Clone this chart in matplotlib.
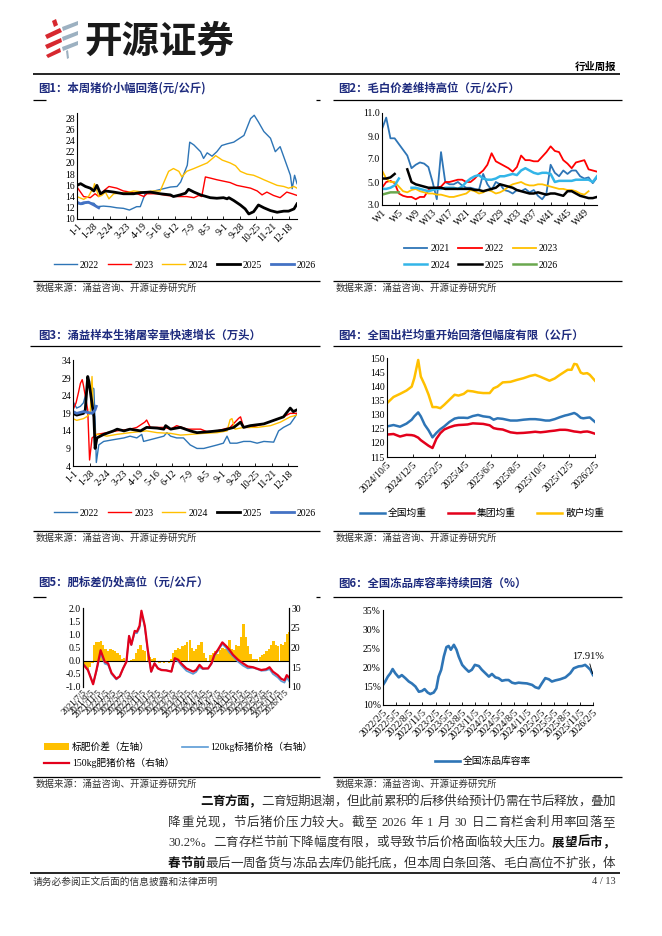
import re
import numpy as np
import matplotlib
matplotlib.use('Agg')
import matplotlib.pyplot as plt
from matplotlib.patches import Polygon

plt.rcParams['font.family'] = ['Liberation Serif', 'Noto Sans CJK SC']
plt.rcParams['axes.unicode_minus'] = False

# ---------------- 数据 ----------------
# 图1 本周猪价 (日序, 元/公斤)
c1_ticks = [0, 27, 54, 81, 108, 135, 162, 189, 216, 243, 270, 297, 324, 351]
c1_labels = ['1-1', '1-28', '2-24', '3-23', '4-19', '5-16', '6-12', '7-9', '8-5',
             '9-1', '9-28', '10-25', '11-21', '12-18']
p22_d = [0, 8, 17, 28, 33, 44, 55, 66, 77, 87, 99, 105, 113, 132, 155, 166, 172, 183, 187,
         194, 205, 210, 216, 224, 232, 240, 249, 260, 277, 288, 294, 301, 310, 321, 329,
         337, 346, 354, 357, 361, 365]
p22_v = [12.8, 12.6, 12.9, 12.8, 12.2, 12.3, 12.2, 12.0, 11.9, 11.6, 12.2, 12.2, 14.5, 15.1,
         15.7, 15.8, 16.6, 19.6, 23.7, 23.2, 22.0, 20.8, 21.8, 21.2, 22.0, 23.1, 23.4, 23.7,
         24.9, 27.9, 28.5, 27.3, 25.6, 24.4, 22.0, 22.9, 20.2, 17.8, 15.4, 17.8, 16.3]
p23_d = [0, 11, 22, 30, 36, 44, 53, 66, 77, 88, 100, 111, 116, 133, 149, 166, 182, 194, 202,
         207, 213, 221, 232, 254, 265, 288, 299, 307, 315, 326, 337, 348, 357, 365]
p23_v = [15.7, 14.0, 13.8, 14.5, 14.0, 15.0, 15.8, 15.5, 15.0, 14.8, 14.5, 14.0, 14.5, 14.5,
         14.2, 14.0, 14.0, 13.8, 14.2, 14.0, 17.5, 17.3, 17.0, 16.5, 16.0, 15.5, 15.0, 14.3,
         14.8, 14.2, 13.8, 14.8, 14.5, 14.2]
p24_d = [0, 11, 19, 28, 29, 36, 41, 47, 53, 61, 83, 94, 111, 127, 138, 144, 152, 160, 169,
         174, 182, 194, 205, 216, 227, 230, 241, 254, 263, 271, 282, 293, 304, 310, 321, 332,
         343, 351, 360, 365]
p24_v = [14.0, 13.5, 14.0, 15.8, 16.3, 14.0, 14.2, 14.8, 13.6, 14.5, 14.7, 15.0, 14.8, 15.0,
         15.0, 16.5, 18.5, 19.0, 18.5, 17.5, 18.5, 19.0, 19.5, 20.0, 21.0, 21.3, 20.5, 20.0,
         19.5, 18.5, 18.0, 17.8, 17.3, 17.0, 16.5, 16.0, 15.8, 15.5, 15.8, 15.5]
p25_d = [0, 6, 14, 22, 28, 33, 39, 47, 61, 77, 94, 105, 122, 138, 155, 160, 171, 180, 185,
         194, 205, 221, 232, 243, 249, 252, 260, 271, 279, 285, 293, 301, 310, 321, 332, 343,
         351, 360, 365]
p25_v = [16.0, 16.3, 15.8, 15.5, 15.0, 16.0, 14.5, 15.0, 14.8, 14.5, 14.5, 14.7, 14.8, 14.5,
         14.3, 14.0, 14.3, 14.6, 15.3, 14.8, 14.3, 13.8, 13.7, 13.8, 13.6, 13.8, 13.3, 12.5,
         11.8, 10.9, 11.3, 12.5, 12.0, 11.5, 11.2, 11.4, 11.4, 11.8, 12.7]
p26_d = [0, 6, 11, 19, 28, 36]
p26_v = [13.0, 12.7, 12.9, 13.0, 12.5, 12.0]

# 图2 毛白价差 (周, 元/公斤)
nan = np.nan
weeks = list(range(1, 53))
week_ticks = list(range(1, 53, 4))
week_labels = ['W%d' % w for w in week_ticks]
s21 = [9.6, 10.6, 8.8, 8.8, 8.3, 7.8, 7.3, 6.2, 6.5, 6.7, 6.6, 6.3, 5.0, 3.5, 7.6, 5.0, 4.8,
       4.8, 5.0, 4.7, 4.5, 4.5, 4.4, 4.3, 5.7, 4.8, 4.3, 5.0, 4.8, 4.3, 4.2, 4.0, 4.3, 4.2,
       4.4, 4.1, 4.3, 3.8, 3.5, 4.0, 6.5, 5.8, 5.5, 6.0, 5.7, 6.0, 6.0, 5.5, 5.3, 5.4, 4.9, 5.4]
s22 = [4.5, 5.0, 5.1, 4.9, 4.0, 3.8, 3.7, 3.7, 3.5, 3.7, 3.7, 4.3, 4.4, 4.5, 4.6, 5.0, 5.0,
       5.1, 5.2, 5.2, 5.0, 5.0, 5.3, 5.7, 6.0, 6.5, 7.5, 6.8, 6.6, 6.4, 6.2, 5.9, 6.3, 7.3,
       6.9, 6.9, 6.8, 6.8, 7.2, 7.6, 8.1, 7.7, 7.6, 6.9, 6.6, 6.2, 6.7, 6.8, 6.9, 6.1, 6.0, 5.9]
s23 = [6.0, 5.3, 5.0, 5.0, 4.6, 4.2, 4.1, 4.3, 4.4, 4.2, 4.1, 4.0, 4.0, 3.9, 3.9, 3.8, 3.7,
       3.7, 3.8, 3.9, 4.0, 4.3, 4.2, 4.0, 4.1, 4.3, 4.2, 4.0, 4.1, 4.3, 4.6, 4.8, 4.9, 5.0,
       4.8, 4.7, 4.7, 4.8, 4.8, 4.7, 4.6, 4.5, 4.4, 4.4, 4.3, 4.3, 4.2, 4.0, 3.9, 4.2, nan, nan]
s24 = [4.4, 4.4, 4.5, 4.7, 5.3, nan, nan, 4.5, 4.5, 4.4, 4.3, 4.2, 4.3, 4.4, 4.4, 4.5, 4.5,
       4.5, 4.4, 4.6, 5.0, 5.3, 5.5, 5.6, 5.3, 5.2, 5.2, 5.3, 5.5, 5.5, 5.6, 5.7, 5.6, 6.0,
       6.2, 6.0, 5.8, 5.7, 5.8, 5.8, 5.7, 5.0, 5.1, 5.1, 5.1, 5.1, 5.2, 5.2, 5.2, 5.2, 5.0, 5.5]
s25 = [5.3, 5.3, 5.4, 5.7, nan, nan, 6.1, 5.0, 4.8, 4.7, 4.6, 4.5, 4.5, 4.5, 4.5, 4.4, 4.4,
       4.4, 4.4, 4.4, 4.4, 4.4, 4.3, 4.3, 4.2, 4.3, 4.4, 4.5, 4.8, 4.7, 4.6, 4.5, 4.3, 4.2,
       4.1, 4.0, 4.0, 4.1, 4.0, 3.9, 4.0, 4.0, 3.9, 3.8, 4.2, 4.2, 4.0, 3.8, 3.7, 3.6, 3.6, 3.7]
s26 = [3.9, 4.0, 4.1, 4.1, 4.1]

# 图3 涌益样本生猪屠宰量 (日序, 万头)
k22_d = [0, 6, 12, 17, 25, 34, 37, 38, 42, 50, 66, 83, 93, 104, 112, 115, 126, 137, 148, 153,
         159, 169, 180, 191, 202, 213, 224, 235, 245, 251, 256, 267, 278, 289, 300, 311, 327,
         335, 343, 354, 362, 365]
k22_v = [22.4, 20.5, 21.0, 22.0, 27.1, 26.0, 12.0, 5.0, 10.0, 11.0, 11.5, 12.0, 12.5, 12.0,
         13.0, 11.0, 11.5, 12.0, 12.5, 13.5, 12.5, 12.0, 12.0, 10.0, 9.0, 9.0, 9.5, 10.0, 10.5,
         12.5, 10.5, 10.5, 11.0, 11.0, 10.5, 11.0, 10.8, 14.0, 15.0, 16.0, 18.0, 19.0]
k23_d = [0, 5, 9, 12, 15, 17, 24, 27, 31, 39, 55, 71, 93, 104, 117, 120, 126, 148, 159, 169,
         186, 197, 208, 218, 235, 256, 270, 273, 278, 289, 311, 327, 343, 354, 365]
k23_v = [20.0, 22.0, 25.0, 27.5, 28.6, 27.0, 20.0, 5.7, 12.0, 13.0, 13.5, 14.0, 14.5, 15.0,
         16.5, 17.1, 15.0, 15.0, 14.5, 15.5, 14.5, 14.5, 14.5, 13.8, 14.0, 15.0, 17.6, 18.0,
         15.0, 15.0, 16.0, 17.0, 18.0, 19.0, 19.0]
k24_d = [0, 6, 17, 22, 28, 31, 33, 36, 44, 55, 71, 93, 120, 137, 159, 175, 191, 213, 235,
         251, 256, 259, 264, 278, 300, 322, 338, 354, 365]
k24_v = [17.5, 17.0, 17.5, 18.0, 19.0, 29.5, 20.0, 13.0, 13.0, 12.5, 13.0, 13.5, 14.0, 13.5,
         13.3, 12.8, 13.0, 13.3, 13.5, 14.0, 17.2, 17.5, 14.5, 15.0, 15.0, 15.5, 16.5, 18.0, 18.5]
k25_d = [0, 6, 17, 20, 24, 26, 34, 36, 39, 50, 66, 72, 83, 93, 110, 120, 137, 148, 151, 159,
         175, 191, 202, 224, 245, 262, 273, 278, 289, 311, 327, 343, 354, 359, 365]
k25_v = [19.0, 18.5, 19.0, 20.0, 29.5, 28.0, 18.0, 9.0, 12.0, 13.0, 14.0, 14.5, 14.0, 14.5,
         14.0, 15.0, 14.8, 14.5, 15.5, 14.5, 15.0, 14.0, 13.5, 13.8, 14.2, 15.0, 16.5, 15.0,
         15.5, 16.0, 17.0, 18.0, 20.5, 19.5, 20.0]
k26_d = [0, 6, 17, 31, 36, 38]
k26_v = [19.5, 19.0, 19.5, 19.0, 20.0, 21.0]

# 图4 出栏均重 (自2024/10/5起的月数, 公斤)
c4_ticks = [0, 2, 4, 6, 8, 10, 12, 14, 16]
c4_labels = ['2024/10/5', '2024/12/5', '2025/2/5', '2025/4/5', '2025/6/5', '2025/8/5',
             '2025/10/5', '2025/12/5', '2026/2/5']
c4_m = [0, 0.5, 1, 1.5, 1.9, 2.1, 2.4, 2.6, 2.9, 3.2, 3.5, 3.8, 4.1, 4.4, 4.8, 5.2, 5.5, 5.9,
        6.2, 6.6, 7.0, 7.4, 7.9, 8.2, 8.5, 8.9, 9.5, 10.0, 10.5, 11.0, 11.4, 11.8, 12.2, 12.5,
        12.9, 13.3, 13.7, 13.9, 14.2, 14.4, 14.6, 14.9, 15.1, 15.4, 15.6, 16.0]
w_all = [125.9, 126.4, 125.8, 126.9, 128.3, 129.5, 130.9, 129.5, 126.5, 124.5, 122.0, 123.6,
         124.9, 125.9, 127.5, 128.7, 129.0, 129.0, 128.9, 129.6, 130.0, 129.5, 129.2, 128.3,
         128.8, 128.6, 128.0, 128.0, 128.3, 128.5, 128.5, 128.3, 128.0, 128.0, 128.5, 129.2,
         129.8, 130.0, 130.4, 130.7, 130.2, 129.0, 128.8, 129.0, 129.1, 127.5]
w_group = [123.0, 123.2, 122.3, 122.9, 122.8, 122.6, 121.9, 121.0, 120.0, 119.0, 118.2, 121.5,
           123.5, 124.8, 125.6, 126.2, 126.4, 126.5, 126.6, 127.0, 126.9, 126.8, 126.3, 125.3,
           125.0, 124.8, 123.8, 123.5, 123.6, 123.8, 124.0, 123.8, 124.0, 124.2, 124.4, 124.7,
           124.7, 124.6, 124.3, 124.1, 124.0, 123.8, 124.0, 124.1, 123.9, 123.3]
w_retail = [134.2, 136.4, 137.5, 138.7, 140.1, 143.1, 149.6, 143.7, 140.7, 137.2, 132.8, 132.8,
            132.4, 133.6, 135.4, 137.2, 136.9, 137.5, 138.6, 138.4, 138.0, 137.8, 137.8, 139.5,
            140.1, 141.6, 141.8, 142.5, 143.1, 143.9, 144.3, 143.6, 142.8, 142.2, 143.0, 144.3,
            145.5, 146.1, 146.1, 148.2, 148.0, 145.1, 144.7, 144.9, 144.3, 142.2]

# 图5 标肥价差 (自2021/7/5起的月数)
c5_ticks = list(range(0, 55, 2))
c5_labels = ['2021/7/5', '2021/9/5', '2021/11/5', '2022/1/5', '2022/3/5', '2022/5/5',
             '2022/7/5', '2022/9/5', '2022/11/5', '2023/1/5', '2023/3/5', '2023/5/5',
             '2023/7/5', '2023/9/5', '2023/11/5', '2024/1/5', '2024/3/5', '2024/5/5',
             '2024/7/5', '2024/9/5', '2024/11/5', '2025/1/5', '2025/3/5', '2025/5/5',
             '2025/7/5', '2025/9/5', '2025/11/5', '2026/1/5']
spread_m = [0, 0.6, 1.25, 1.9, 2.5, 2.9, 3.6, 4.2, 4.8, 5.4, 6.0, 6.7, 7.3, 7.9, 8.5, 9.2, 9.8,
            10.4, 11.0, 11.7, 12.3, 12.9, 13.5, 14.1, 14.8, 15.4, 16.0, 16.6, 17.3, 17.9, 18.5,
            19.1, 19.8, 20.4, 21.0, 21.6, 22.2, 22.9, 23.5, 24.1, 24.7, 25.4, 26.0, 26.6, 27.2,
            27.8, 28.5, 29.1, 29.7, 30.3, 30.9, 31.6, 32.2, 32.8, 33.5, 34.1, 34.7, 35.3, 35.9,
            36.6, 37.2, 37.8, 38.4, 39.1, 39.7, 40.3, 40.9, 41.5, 42.2, 42.8, 43.4, 44.0, 44.7,
            45.3, 45.9, 46.5, 47.2, 47.8, 48.4, 49.0, 49.6, 50.3, 50.9, 51.5, 52.1, 52.8, 53.4,
            54.0, 54.6, 55.0]
spread_v = [-0.1, -0.2, -0.3, -0.25, -0.1, 0.6, 0.7, 0.72, 0.75, 0.6, 0.45, 0.35, 0.45, 0.4,
            0.35, 0.3, 0.2, 0.05, 0.1, -0.05, -0.05, 0.02, 0.05, 0.3, 0.45, 0.6, 0.4, 0.35, 0.3,
            0.15, 0.05, 0.1, -0.05, -0.08, -0.05, -0.1, -0.05, -0.08, 0.05, 0.3, 0.4, 0.5, 0.45,
            0.55, 0.6, 0.7, 0.8, 0.5, 0.35, 0.45, 0.6, 0.7, 0.3, 0.1, 0.0, 0.2, 0.3, 0.35, 0.25,
            0.4, 0.5, 0.45, 0.55, 0.8, 0.45, 0.4, 0.6, 0.55, 0.9, 1.4, 0.9, 0.55, 0.25, 0.05,
            0.05, 0.08, 0.15, 0.2, 0.25, 0.35, 0.45, 0.6, 0.75, 0.6, 0.55, 0.65, 0.6, 0.7, 1.0, 1.1]
price_m = [0, 1.3, 2.7, 3.6, 4.7, 5.8, 6.7, 7.6, 8.9, 9.8, 10.7, 11.6, 12.3, 12.9, 13.8, 14.4,
           15.1, 15.6, 16.5, 17.3, 18.2, 19.1, 20.0, 20.9, 22.2, 23.6, 24.5, 25.4, 26.2, 27.6,
           29.4, 30.2, 31.1, 32.0, 33.4, 34.3, 35.1, 36.0, 37.2, 38.3, 39.1, 40.0, 41.4, 42.7,
           44.0, 45.4, 46.3, 47.6, 48.9, 49.8, 50.7, 52.0, 52.9, 53.8, 54.4, 55.0]
price_150 = [15.8, 14.3, 10.7, 14.3, 19.3, 16.4, 16.0, 13.6, 12.1, 12.7, 14.7, 16.4, 22.9, 20.7,
             24.2, 24.0, 25.5, 29.3, 25.5, 19.4, 13.9, 16.0, 14.7, 14.3, 14.2, 13.9, 17.3, 16.9,
             16.0, 14.7, 13.9, 14.3, 15.6, 14.7, 14.7, 16.0, 18.2, 19.4, 21.3, 20.3, 19.4, 18.2,
             16.9, 16.0, 15.2, 15.0, 14.7, 14.3, 14.5, 15.0, 13.9, 13.0, 12.1, 11.7, 13.0, 12.4]
price_120 = [15.9, 14.5, 10.9, 14.0, 18.6, 15.9, 15.6, 13.3, 11.9, 12.6, 14.7, 16.5, 23.0, 20.6,
             23.7, 23.6, 24.9, 28.8, 25.1, 19.1, 13.8, 16.0, 14.8, 14.4, 14.3, 13.9, 17.0, 16.5,
             15.5, 14.1, 13.3, 13.8, 15.0, 14.5, 14.7, 15.8, 17.9, 19.1, 20.9, 19.8, 18.7, 17.8,
             16.4, 15.4, 14.7, 14.9, 14.6, 14.1, 14.2, 14.5, 13.3, 12.4, 11.5, 11.1, 12.4, 11.5]

# 图6 冻品库容率 (自2022/2/5起的月数, %)
c6_ticks = list(range(0, 49, 3))
c6_labels = ['2022/2/5', '2022/5/5', '2022/8/5', '2022/11/5', '2023/2/5', '2023/5/5',
             '2023/8/5', '2023/11/5', '2024/2/5', '2024/5/5', '2024/8/5', '2024/11/5',
             '2025/2/5', '2025/5/5', '2025/8/5', '2025/11/5', '2026/2/5']
fz_m = [0, 0.5, 1.1, 1.7, 2.2, 2.8, 3.6, 4.3, 5.1, 5.9, 6.6, 7.4, 8.2, 8.9, 9.5, 10.2, 10.8,
        11.6, 12.2, 12.7, 13.3, 13.9, 14.5, 15.0, 15.5, 16.2, 16.8, 17.3, 18.1, 18.8, 19.6,
        20.3, 21.0, 21.9, 22.6, 23.4, 24.2, 24.9, 25.7, 26.4, 27.2, 28.0, 28.7, 29.5, 30.2,
        31.0, 31.8, 32.9, 34.1, 34.8, 35.6, 36.3, 37.1, 37.9, 38.6, 39.4, 40.5, 41.7, 42.8,
        43.6, 44.7, 45.5, 46.2, 46.8, 47.4, 48.0]
fz_v = [15.3, 16.2, 17.5, 18.4, 19.5, 18.4, 17.3, 17.9, 17.1, 16.2, 15.7, 14.9, 13.5, 13.7,
        14.2, 13.3, 12.9, 13.3, 14.4, 17.5, 19.3, 22.8, 25.3, 25.6, 24.6, 25.9, 24.6, 22.8,
        20.6, 19.7, 18.8, 19.3, 20.6, 20.3, 19.3, 18.4, 17.5, 18.2, 17.3, 17.1, 16.4, 16.6,
        16.6, 15.9, 15.7, 15.9, 15.8, 15.7, 15.3, 14.7, 14.4, 15.7, 17.1, 16.8, 16.2, 16.5,
        16.8, 17.3, 18.4, 19.7, 20.2, 20.3, 20.6, 20.0, 19.3, 17.91]

# ---------------- 版面 ----------------
W, H = 662, 936
fig = plt.figure(figsize=(6.62, 9.36), dpi=100)
page = fig.add_axes([0, 0, 1, 1])
page.set_xlim(0, W)
page.set_ylim(H, 0)
page.axis('off')

NAVY = '#1E2B7E'
CJK = ['Noto Sans CJK SC', 'DejaVu Sans']
SERIF_CJK = ['Liberation Serif', 'Noto Sans CJK SC']


def box(x0, y0, x1, y1):
    return [x0 / W, 1 - y1 / H, (x1 - x0) / W, (y1 - y0) / H]


def hline(y, x0, x1, lw=0.9):
    page.plot([x0, x1], [y, y], color='black', lw=lw, solid_capstyle='butt')


# 页眉
red_parts = [[(52, 21), (56, 19), (58, 25), (54, 27)],
             [(45, 35), (60, 28), (62, 32), (47, 39)],
             [(45, 45), (61, 38), (62, 42), (47, 49)],
             [(46, 55), (60, 48), (61, 52), (48, 58)]]
grey_parts = [[(62, 27), (78, 21), (78, 25), (63, 31)],
              [(62, 37), (78, 31), (78, 35), (63, 41)],
              [(62, 47), (78, 41), (78, 45), (63, 51)],
              [(66, 51), (68, 50), (69, 58), (67, 59)]]
for p in red_parts:
    page.add_patch(Polygon(p, closed=True, color='#D7282F', lw=0))
for p in grey_parts:
    page.add_patch(Polygon(p, closed=True, color='#9DB1C1', lw=0))
page.text(84, 41, '开源证券', fontsize=27, fontweight='bold', family=CJK,
          va='center', ha='left', color='#1A1A1A')
page.text(616, 67, '行业周报', fontsize=7.5, fontweight='bold', family=CJK,
          va='center', ha='right')
hline(74, 33, 620, lw=1.2)

# 标题与来源
titles = [(38, 88, '图1：本周猪价小幅回落(元/公斤)'),
          (338, 88, '图2：毛白价差维持高位（元/公斤）'),
          (38, 335, '图3：涌益样本生猪屠宰量快速增长（万头）'),
          (338, 335, '图4：全国出栏均重开始回落但幅度有限（公斤）'),
          (38, 583, '图5：肥标差仍处高位（元/公斤）'),
          (338, 583, '图6：全国冻品库容率持续回落（%）')]
for x, y, t in titles:
    page.text(x, y, t, fontsize=8.2, fontweight='bold', color=NAVY, family=CJK,
              va='center', ha='left')
# 标题下方分隔线
hline(100, 33, 46)
hline(100, 316, 320)
hline(100, 333, 622)
hline(346, 30, 320)
hline(346, 333, 622)
hline(597, 33, 46)
hline(597, 316, 320)
hline(597, 333, 622)
for ys, yt in [(281, 288), (531, 538), (777, 784)]:
    hline(ys, 33, 320)
    hline(ys, 333, 622)
    page.text(36, yt, '数据来源：涌益咨询、开源证券研究所', fontsize=6.8, family=CJK,
              va='center', ha='left', color='#333333')
    page.text(336, yt, '数据来源：涌益咨询、开源证券研究所', fontsize=6.8, family=CJK,
              va='center', ha='left', color='#333333')


def style(ax):
    for s in ['top', 'right']:
        ax.spines[s].set_visible(False)
    for s in ['left', 'bottom']:
        ax.spines[s].set_linewidth(0.8)
    ax.tick_params(axis='both', labelsize=7, length=0, pad=1.5)
    ax.tick_params(axis='x', length=2.5, direction='in', width=0.6, pad=2)
    ax.patch.set_alpha(0)


def rot_labels(ax, ticks, labels, size=7):
    ax.set_xticks(ticks)
    ax.set_xticklabels(labels, rotation=45, ha='right', rotation_mode='anchor', fontsize=size)


def leg(handles, labels, cx, cy, ncol, **kw):
    opts = dict(loc='center', bbox_to_anchor=(cx / W, 1 - cy / H), ncol=ncol, frameon=False,
                fontsize=7, handlelength=2.4, handletextpad=0.3, columnspacing=0.9,
                borderpad=0, borderaxespad=0)
    opts.update(kw)
    fig.legend(handles, labels, **opts)


yr_cols = {'2022': ('#2E75B6', 1.0), '2023': ('#FF0000', 1.0), '2024': ('#FFC000', 1.0),
           '2025': ('black', 2.0), '2026': ('#4472C4', 2.0)}

# ---------------- 图1 ----------------
ax1 = fig.add_axes(box(77, 113, 297, 219))
for lab, d, v in [('2022', p22_d, p22_v), ('2023', p23_d, p23_v), ('2024', p24_d, p24_v),
                  ('2025', p25_d, p25_v), ('2026', p26_d, p26_v)]:
    c, lw = yr_cols[lab]
    ax1.plot(d, v, color=c, lw=lw, label=lab)
ax1.set_xlim(0, 365)
ax1.set_ylim(10, 28.9)
ax1.set_yticks(range(10, 29, 2))
style(ax1)
rot_labels(ax1, c1_ticks, c1_labels)
h, l = ax1.get_legend_handles_labels()
leg(h, l, 185, 265, 5)

# ---------------- 图2 ----------------
ax2 = fig.add_axes(box(382, 113, 597, 205))
c2 = [('2021', s21, '#2E75B6', 1.3), ('2022', s22, '#FF0000', 1.3), ('2023', s23, '#FFC000', 1.3),
      ('2024', s24, '#33B5E8', 1.8), ('2025', s25, 'black', 1.8), ('2026', s26, '#6AA84F', 1.8)]
lines2 = {}
for lab, v, c, lw in c2:
    lines2[lab], = ax2.plot(weeks[:len(v)], v, color=c, lw=lw, label=lab)
ax2.set_xlim(1, 52)
ax2.set_ylim(3, 11)
ax2.set_yticks([3, 5, 7, 9, 11])
ax2.set_yticklabels(['3.0', '5.0', '7.0', '9.0', '11.0'])
style(ax2)
rot_labels(ax2, week_ticks, week_labels)
order = ['2021', '2024', '2022', '2025', '2023', '2026']
leg([lines2[k] for k in order], order, 481, 257, 3, labelspacing=0.75)

# ---------------- 图3 ----------------
ax3 = fig.add_axes(box(73, 360, 297, 466))
for lab, d, v in [('2022', k22_d, k22_v), ('2023', k23_d, k23_v), ('2024', k24_d, k24_v),
                  ('2025', k25_d, k25_v), ('2026', k26_d, k26_v)]:
    c, lw = yr_cols[lab]
    ax3.plot(d, v, color=c, lw=lw, label=lab)
ax3.set_xlim(0, 365)
ax3.set_ylim(4, 34.2)
ax3.set_yticks(range(4, 35, 5))
style(ax3)
rot_labels(ax3, c1_ticks, c1_labels)
h, l = ax3.get_legend_handles_labels()
leg(h, l, 185, 513, 5)

# ---------------- 图4 ----------------
ax4 = fig.add_axes(box(387, 358, 595, 457))
ax4.plot(c4_m, w_all, color='#2E75B6', lw=1.8, label='全国均重')
ax4.plot(c4_m, w_group, color='#E3001B', lw=1.8, label='集团均重')
ax4.plot(c4_m, w_retail, color='#FFC000', lw=1.8, label='散户均重')
ax4.set_xlim(0, 16)
ax4.set_ylim(115, 150.3)
ax4.set_yticks(range(115, 151, 5))
style(ax4)
rot_labels(ax4, c4_ticks, c4_labels)
h, l = ax4.get_legend_handles_labels()
leg(h, l, 482, 513, 3, prop={'family': CJK, 'size': 7}, columnspacing=2.2, handlelength=2.6)

# ---------------- 图5 ----------------
ax5 = fig.add_axes(box(83, 608, 289, 687))
ax5r = ax5.twinx()
b = ax5.bar(spread_m, spread_v, width=0.66, color='#FFC000', lw=0, label='标肥价差（左轴）')
ax5.axhline(0, color='black', lw=0.8)
ax5.set_ylim(-1, 2)
ax5.set_yticks([-1, -0.5, 0, 0.5, 1, 1.5, 2])
ax5.set_yticklabels(['-1.0', '-0.5', '0.0', '0.5', '1.0', '1.5', '2.0'])
l120, = ax5r.plot(price_m, price_120, color='#5B9BD5', lw=1.2, label='120kg标猪价格（右轴）')
l150, = ax5r.plot(price_m, price_150, color='#E3001B', lw=1.6, label='150kg肥猪价格（右轴）')
ax5r.set_ylim(10, 30)
ax5r.set_yticks([10, 15, 20, 25, 30])
ax5.set_xlim(0, 55)
for a in (ax5, ax5r):
    a.spines['top'].set_visible(False)
    a.spines['bottom'].set_visible(False)
    a.spines['left'].set_linewidth(0.8)
    a.spines['right'].set_linewidth(0.8)
    a.tick_params(axis='y', labelsize=7, length=0, pad=1.5)
ax5.tick_params(axis='x', length=0, pad=1)
rot_labels(ax5, c5_ticks, c5_labels, size=6.5)
leg([b, l120], ['标肥价差（左轴）', '120kg标猪价格（右轴）'], 44, 747, 2, loc='center left',
    columnspacing=3.3, handlelength=2.6)
leg([l150], ['150kg肥猪价格（右轴）'], 44, 763, 1, loc='center left', handlelength=2.6)

# ---------------- 图6 ----------------
ax6 = fig.add_axes(box(383, 610, 593, 705))
ax6.plot(fz_m, fz_v, color='#2E75B6', lw=1.9, label='全国冻品库容率')
ax6.set_xlim(0, 48)
ax6.set_ylim(10, 35.1)
ax6.set_yticks(range(10, 36, 5))
ax6.set_yticklabels(['%d%%' % v for v in range(10, 36, 5)])
style(ax6)
rot_labels(ax6, c6_ticks, c6_labels)
ax6.annotate('17.91%', xy=(fz_m[-1], fz_v[-1]), xytext=(46.8, 21.6), fontsize=7.5,
             ha='center', va='bottom',
             arrowprops=dict(arrowstyle='-', lw=0.6, color='black', shrinkA=0, shrinkB=1))
h, l = ax6.get_legend_handles_labels()
leg(h, l, 483, 761, 1, prop={'family': CJK, 'size': 7}, handlelength=2.6)

# ---------------- 正文 ----------------
renderer = fig.canvas.get_renderer()


def justify(y, x0, x1, parts, size=9.0):
    items = []
    for s, bold in parts:
        for tok in re.findall(r'[A-Za-z0-9.%]+|\s|.', s):
            t = page.text(0, y, tok, fontsize=size, family=SERIF_CJK, va='center', ha='left',
                          fontweight='bold' if bold else 'normal',
                          color='#111111' if bold else '#333333')
            w = t.get_window_extent(renderer).width if tok.strip() else size * 0.35
            items.append((t, w))
    gap = (x1 - x0 - sum(w for _, w in items)) / max(len(items) - 1, 1)
    x = x0
    for t, w in items:
        t.set_x(x)
        x += w + gap


justify(802, 200, 615, [('二育方面，', True),
                        ('二育短期退潮，但此前累积的后移供给预计仍需在节后释放，叠加', False)])
justify(823, 168, 615, [('降重兑现，节后猪价压力较大。截至 2026 年 1 月 30 日二育栏舍利用率回落至', False)])
justify(843, 168, 615, [('30.2%。二育存栏节前下降幅度有限，或导致节后价格面临较大压力。', False),
                        ('展望后市，', True)])
justify(864, 168, 615, [('春节前', True),
                        ('最后一周备货与冻品去库仍能托底，但本周白条回落、毛白高位不扩张，体', False)])

hline(873, 30, 620, lw=1.2)
page.text(33, 882, '请务必参阅正文后面的信息披露和法律声明', fontsize=7, family=CJK,
          va='center', ha='left', color='#333333')
page.text(616, 882, '4 / 13', fontsize=7.5, va='center', ha='right', color='#333333')

fig.savefig('out.png', dpi=100)
